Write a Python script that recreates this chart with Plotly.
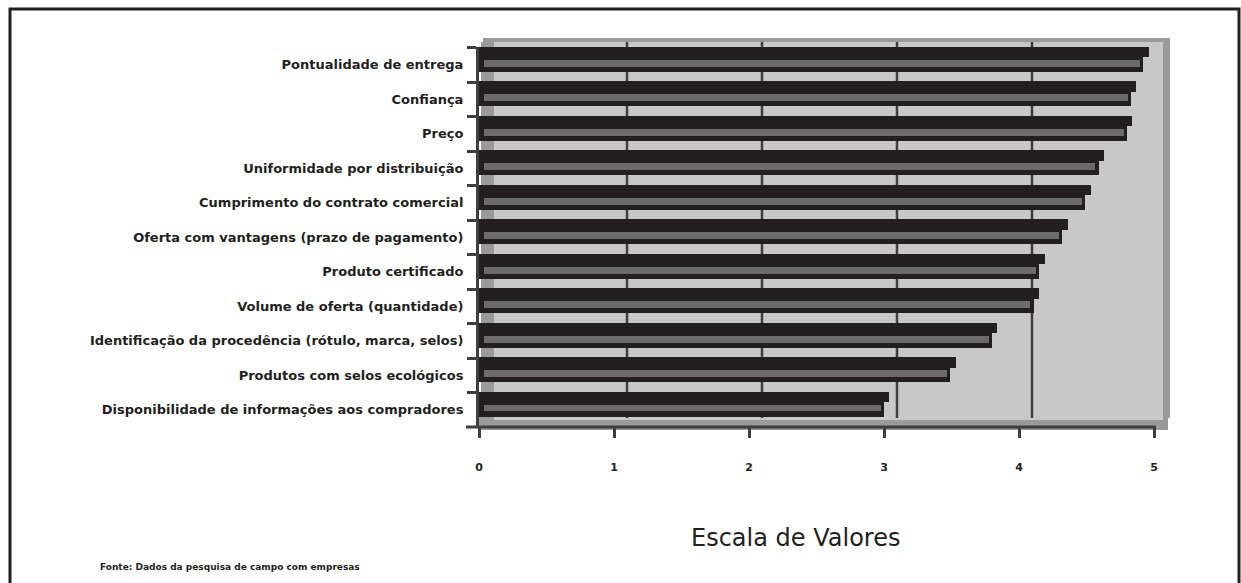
import plotly.graph_objects as go

categories = [
    "Pontualidade de entrega",
    "Confiança",
    "Preço",
    "Uniformidade por distribuição",
    "Cumprimento do contrato comercial",
    "Oferta com vantagens (prazo de pagamento)",
    "Produto certificado",
    "Volume de oferta (quantidade)",
    "Identificação da procedência (rótulo, marca, selos)",
    "Produtos com selos ecológicos",
    "Disponibilidade de informações aos compradores",
]
values = [4.96, 4.87, 4.84, 4.63, 4.53, 4.36, 4.19, 4.15, 3.84, 3.53, 3.04]
x_ticks = [0, 1, 2, 3, 4, 5]

# pixel layout helpers
W, H = 1241, 583
PL, PR = 479, 1154      # plot area left/right (px)
PT, PB = 47, 427        # plot area top/bottom (px)
pw, ph = PR - PL, PB - PT
def fx(px): return (px - PL) / pw
def fy(py): return (PB - py) / ph
depth = 13 / (pw / 5)   # 3-D depth offset in data units

dark = "#231f20"
stripe = "#6b6b6b"
wall = "#c8c8c8"
side = "#9a9a9a"
axc = "#3f3f3f"

fig = go.Figure()
# main black bar (front face)
fig.add_trace(go.Bar(y=categories, x=[v - 0.04 for v in values], orientation="h",
                     marker=dict(color=dark, line=dict(width=0)), width=0.72, offset=-0.52,
                     xaxis="x", yaxis="y", hoverinfo="skip"))
# top of 3-D bar (slightly longer)
fig.add_trace(go.Bar(y=categories, x=values, orientation="h",
                     marker=dict(color=dark, line=dict(width=0)), width=0.3, offset=-0.52,
                     xaxis="x", yaxis="y", hoverinfo="skip"))
# grey stripe
fig.add_trace(go.Bar(y=categories, x=[v - 0.1 for v in values], orientation="h",
                     marker=dict(color=stripe, line=dict(width=0)), width=0.2, offset=-0.15,
                     base=0.035, xaxis="x", yaxis="y", hoverinfo="skip"))

shapes = []
# back wall
shapes.append(dict(type="rect", xref="paper", yref="paper", x0=fx(483), x1=fx(1166),
                   y0=fy(425), y1=fy(40), fillcolor=wall, line=dict(width=0), layer="below"))
# back wall border top & right
shapes.append(dict(type="rect", xref="paper", yref="paper", x0=fx(483), x1=fx(1170),
                   y0=fy(42), y1=fy(38), fillcolor=side, line=dict(width=0), layer="below"))
shapes.append(dict(type="rect", xref="paper", yref="paper", x0=fx(1163), x1=fx(1170),
                   y0=fy(418), y1=fy(38), fillcolor=side, line=dict(width=0), layer="below"))
# side wall
shapes.append(dict(type="rect", xref="paper", yref="paper", x0=fx(481), x1=fx(494),
                   y0=fy(427), y1=fy(42), fillcolor=side, line=dict(width=0), layer="below"))
# floor
shapes.append(dict(type="rect", xref="paper", yref="paper", x0=fx(479), x1=fx(1168),
                   y0=fy(430), y1=fy(417), fillcolor=side, line=dict(width=0), layer="below"))
shapes.append(dict(type="rect", xref="paper", yref="paper", x0=fx(494), x1=fx(1163),
                   y0=fy(420), y1=fy(417), fillcolor=wall, line=dict(width=0), layer="below"))
# back-wall gridlines (offset for 3-D depth)
for t in x_ticks[1:-1]:
    shapes.append(dict(type="line", xref="x", yref="paper", x0=t + depth, x1=t + depth,
                       y0=fy(418), y1=fy(42), line=dict(color=axc, width=2.5), layer="below"))
# front axis line
shapes.append(dict(type="line", xref="paper", yref="paper", x0=fx(466), x1=fx(1156),
                   y0=fy(427), y1=fy(427), line=dict(color=axc, width=3)))
# outer frame
shapes.append(dict(type="rect", xref="paper", yref="paper", x0=fx(10), x1=fx(1239),
                   y0=fy(600), y1=fy(9), line=dict(color=dark, width=3), fillcolor="rgba(0,0,0,0)"))

fig.update_layout(
    width=W, height=H,
    margin=dict(l=PL, r=W - PR, t=PT, b=H - PB),
    paper_bgcolor="white", plot_bgcolor="rgba(0,0,0,0)",
    barmode="overlay", bargap=0, showlegend=False,
    shapes=shapes,
    font=dict(family="DejaVu Sans", color=dark),
    xaxis=dict(range=[0, 5], tickvals=x_ticks, ticktext=[str(t) for t in x_ticks],
               showgrid=False, zeroline=False, showline=False,
               ticks="outside", ticklen=10, tickwidth=2.5, tickcolor=axc,
               ticklabelstandoff=20,
               tickfont=dict(size=11, family="DejaVu Sans", color=dark, weight="bold")),
    yaxis=dict(categoryorder="array", categoryarray=categories, autorange="reversed",
               showgrid=False, zeroline=False, showline=True, linecolor=axc, linewidth=3,
               ticks="outside", tickson="boundaries", ticklen=9, tickwidth=2.5, tickcolor=axc,
               ticklabelstandoff=10,
               tickfont=dict(size=13, family="DejaVu Sans", color=dark, weight="bold")),
    annotations=[
        dict(text="Escala de Valores", xref="paper", yref="paper", x=fx(795), y=fy(538),
             showarrow=False, xanchor="center", yanchor="middle",
             font=dict(size=24, family="DejaVu Sans", color=dark)),
        dict(text="Fonte: Dados da pesquisa de campo com empresas", xref="paper", yref="paper",
             x=fx(98), y=fy(567), showarrow=False, xanchor="left", yanchor="middle",
             font=dict(size=9, family="DejaVu Sans", color=dark, weight="bold")),
    ],
)

fig.write_html("out.html")
